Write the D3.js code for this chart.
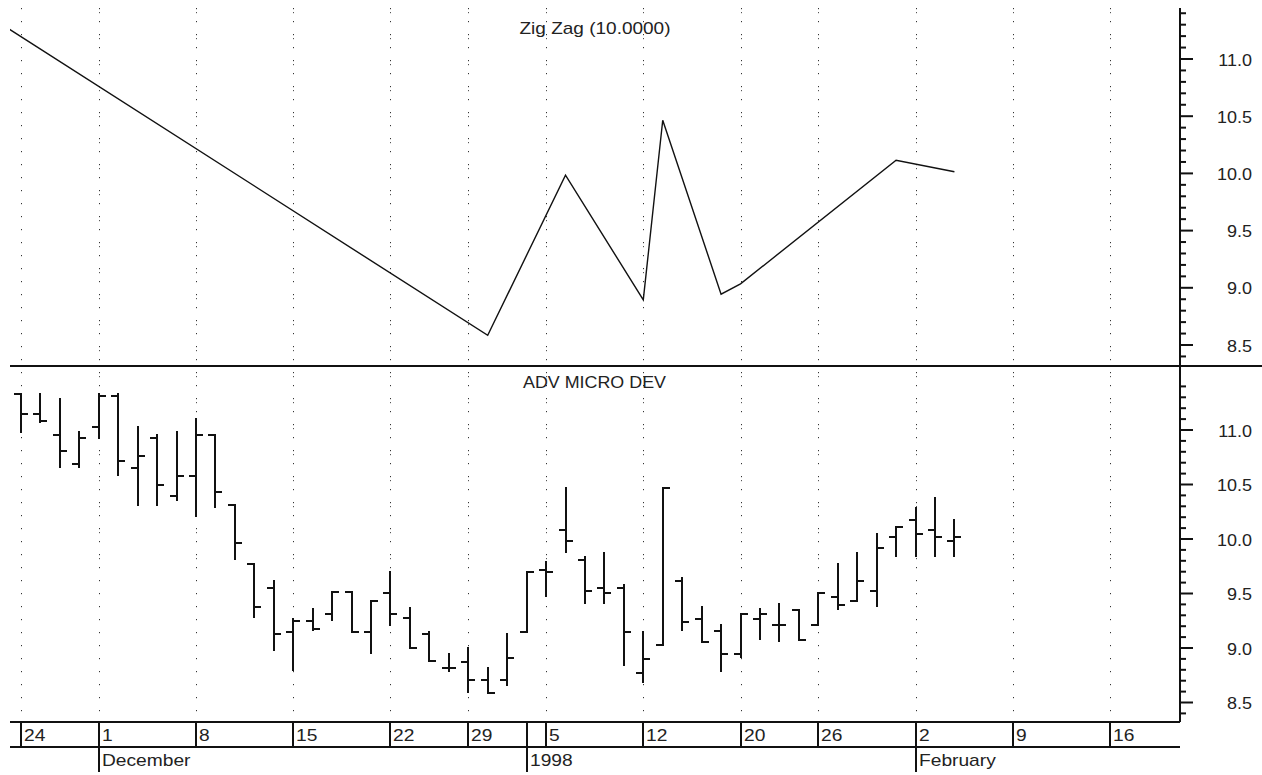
<!DOCTYPE html>
<html><head><meta charset="utf-8">
<script src="https://cdn.jsdelivr.net/npm/d3@7"></script>
<style>html,body{margin:0;padding:0;background:#fff;} svg{display:block;}</style>
</head><body><svg id="c" width="1262" height="775"></svg>
<script>
// ---------- data ----------
const tradingDays = [
 "1997-11-21","1997-11-24","1997-11-25","1997-11-26","1997-11-28",
 "1997-12-01","1997-12-02","1997-12-03","1997-12-04","1997-12-05",
 "1997-12-08","1997-12-09","1997-12-10","1997-12-11","1997-12-12",
 "1997-12-15","1997-12-16","1997-12-17","1997-12-18","1997-12-19",
 "1997-12-22","1997-12-23","1997-12-24","1997-12-26",
 "1997-12-29","1997-12-30","1997-12-31","1998-01-02",
 "1998-01-05","1998-01-06","1998-01-07","1998-01-08","1998-01-09",
 "1998-01-12","1998-01-13","1998-01-14","1998-01-15","1998-01-16",
 "1998-01-20","1998-01-21","1998-01-22","1998-01-23",
 "1998-01-26","1998-01-27","1998-01-28","1998-01-29","1998-01-30",
 "1998-02-02","1998-02-03","1998-02-04","1998-02-05","1998-02-06",
 "1998-02-09","1998-02-10","1998-02-11","1998-02-12","1998-02-13",
 "1998-02-16"];
const barDates = tradingDays.slice(1, 50);
const opens  = [11.33,11.14,10.95,10.68,11.02,11.31,10.65,10.92,10.39,10.57,10.95,10.31,9.77,9.55,9.14,9.24,9.31,9.51,9.14,9.50,9.27,9.12,8.81,8.87,8.70,8.70,9.14,9.71,10.08,9.80,9.55,9.55,8.77,9.02,9.61,9.26,9.15,8.94,9.26,9.21,9.34,9.21,9.46,9.43,9.52,10.01,10.17,10.08,9.98];
const highs  = [11.33,11.33,11.28,10.98,11.33,11.33,11.02,10.95,10.98,11.10,10.95,10.31,9.77,9.61,9.26,9.35,9.51,9.51,9.43,9.69,9.36,9.14,8.94,9.00,8.81,9.12,9.69,9.78,10.46,9.83,9.87,9.57,9.14,10.46,9.64,9.37,9.21,9.31,9.35,9.40,9.34,9.50,9.77,9.87,10.04,10.11,10.28,10.37,10.17];
const lows   = [10.98,11.07,10.66,10.66,10.92,10.58,10.31,10.31,10.35,10.21,10.29,9.81,9.28,8.98,8.79,9.16,9.25,9.14,8.95,9.21,9.00,8.88,8.78,8.59,8.58,8.66,9.14,9.47,9.88,9.41,9.41,8.84,8.68,9.02,9.16,9.05,8.78,8.91,9.08,9.06,9.07,9.21,9.35,9.43,9.38,9.84,9.84,9.84,9.84];
const closes = [11.14,11.08,10.80,10.92,11.31,10.71,10.76,10.49,10.57,10.95,10.43,9.96,9.37,9.12,9.24,9.17,9.51,9.14,9.43,9.31,9.00,8.88,8.81,8.70,8.58,8.90,9.69,9.69,9.98,9.52,9.50,9.14,8.89,10.46,9.23,9.05,8.94,9.31,9.31,9.21,9.07,9.50,9.39,9.61,9.91,10.11,10.04,10.01,10.01];

const zigzagDates  = ["1997-11-21","1997-12-30","1998-01-06","1998-01-12","1998-01-13","1998-01-16","1998-01-20","1998-01-30","1998-02-04"];
const zigzagValues = [11.30,8.58,9.98,8.89,10.46,8.94,9.03,10.11,10.01];

const dayTickDates  = ["1997-11-24","1997-12-01","1997-12-08","1997-12-15","1997-12-22","1997-12-29","1998-01-05","1998-01-12","1998-01-20","1998-01-26","1998-02-02","1998-02-09","1998-02-16"];
const dayTickLabels = ["24","1","8","15","22","29","5","12","20","26","2","9","16"];
const yearStartDate = "1998-01-02";
const monthTickDates  = ["1997-12-01","1998-01-02","1998-02-02"];
const monthTickLabels = ["December","1998","February"];

const majorTicks = [8.5,9.0,9.5,10.0,10.5,11.0];
const topMinorTicks = d3.range(84,115).map(d=>d/10);
const botMinorTicks = d3.range(84,116).map(d=>d/10);

const topTitle = "Zig Zag (10.0000)";
const bottomTitle = "ADV MICRO DEV";

// ---------- layout ----------
const svg = d3.select("#c");
const W = 1262, H = 775;
const plotL = 10, axisX = 1180;
const topY0 = 8, divY = 366, botY1 = 722, row2Y = 747, row3Y = 772;
const ink = "#111";
const font = "'Liberation Sans', Arial, sans-serif";

svg.append("rect").attr("width",W).attr("height",H).attr("fill","#fff");

const idx = d => tradingDays.indexOf(d);
const x = d3.scaleLinear().domain([1,57]).range([21,1110]);
const xd = d => Math.round(x(idx(d)));
const yTop = d3.scaleLinear().domain([8.5,11.0]).range([344.5,58.5]);
const yBot = d3.scaleLinear().domain([8.5,11.0]).range([702,429.5]);

svg.append("clipPath").attr("id","clip").append("rect")
  .attr("x",plotL).attr("y",0).attr("width",axisX-plotL).attr("height",botY1);

// gridlines
const grid = svg.append("g");
dayTickDates.forEach((d,i)=>{
  const gx = xd(d)+0.5;
  grid.append("line").attr("x1",gx).attr("x2",gx).attr("y1",topY0).attr("y2",botY1)
    .attr("stroke","#333").attr("stroke-width",1).attr("stroke-dasharray","1.2,11.8");
  if(i>0) grid.append("line").attr("x1",gx).attr("x2",gx).attr("y1",topY0+4).attr("y2",560)
    .attr("stroke","#555").attr("stroke-width",1).attr("stroke-dasharray","1.2,24.8");
});

// zigzag line
const zz = zigzagDates.map((d,i)=>({d, v:zigzagValues[i]}));
svg.append("path").datum(zz)
  .attr("clip-path","url(#clip)")
  .attr("fill","none").attr("stroke",ink).attr("stroke-width",1.4)
  .attr("d", d3.line().x(p=>x(idx(p.d))).y(p=>yTop(p.v)));

// OHLC bars
const bars = barDates.map((d,i)=>({d,o:opens[i],h:highs[i],l:lows[i],c:closes[i]}));
const bg = svg.append("g").attr("stroke",ink).attr("stroke-width",2).attr("clip-path","url(#clip)");
bars.forEach(b=>{
  const bx = xd(b.d);
  bg.append("line").attr("x1",bx).attr("x2",bx).attr("y1",Math.round(yBot(b.h))-1).attr("y2",Math.round(yBot(b.l))+1);
  const yo = Math.round(yBot(b.o)), yc = Math.round(yBot(b.c));
  bg.append("line").attr("x1",bx-7).attr("x2",bx).attr("y1",yo).attr("y2",yo);
  bg.append("line").attr("x1",bx).attr("x2",bx+7).attr("y1",yc).attr("y2",yc);
});

// frame lines
svg.append("line").attr("x1",plotL).attr("x2",W).attr("y1",divY).attr("y2",divY).attr("stroke",ink).attr("stroke-width",2);
svg.append("line").attr("x1",axisX).attr("x2",axisX).attr("y1",topY0).attr("y2",botY1).attr("stroke",ink).attr("stroke-width",2);
svg.append("line").attr("x1",plotL).attr("x2",axisX).attr("y1",botY1).attr("y2",botY1).attr("stroke",ink).attr("stroke-width",2);
svg.append("line").attr("x1",plotL).attr("x2",axisX).attr("y1",row2Y).attr("y2",row2Y).attr("stroke",ink).attr("stroke-width",2);

// right axes
function drawAxis(scale, minor){
  const gMin = svg.append("g").attr("transform",`translate(${axisX},0)`)
    .call(d3.axisRight(scale).tickValues(minor.filter(v=>Math.round(v*10)%5!==0)).tickSize(6).tickFormat(""));
  const gMaj = svg.append("g").attr("transform",`translate(${axisX},0)`)
    .call(d3.axisRight(scale).tickValues(majorTicks).tickSize(13).tickFormat(d3.format(".1f")));
  [gMin,gMaj].forEach(g=>{
    g.select(".domain").remove();
    g.selectAll(".tick line").attr("stroke",ink).attr("stroke-width",2);
  });
  gMaj.selectAll(".tick text").attr("x",null).attr("dy",null).attr("y",null)
    .attr("transform","translate(72,6.5) scale(1.06,1)")
    .attr("text-anchor","end").attr("fill","#222")
    .style("font-family",font).style("font-size","17px");
}
drawAxis(yTop, topMinorTicks);
drawAxis(yBot, botMinorTicks);

// titles
svg.append("text").attr("x",595).attr("y",34).attr("text-anchor","middle")
  .attr("textLength",151).attr("lengthAdjust","spacingAndGlyphs")
  .style("font-family",font).style("font-size","17px").attr("fill","#222").text(topTitle);
svg.append("text").attr("x",594.5).attr("y",388).attr("text-anchor","middle")
  .attr("textLength",143).attr("lengthAdjust","spacingAndGlyphs")
  .style("font-family",font).style("font-size","17px").attr("fill","#222").text(bottomTitle);

// date axis rows
const sepDates = dayTickDates.concat([yearStartDate]);
sepDates.forEach(d=>{
  const sx = xd(d);
  svg.append("line").attr("x1",sx).attr("x2",sx).attr("y1",botY1).attr("y2",row2Y).attr("stroke",ink).attr("stroke-width",2);
});
dayTickDates.forEach((d,i)=>{
  svg.append("text").attr("transform",`translate(${xd(d)+3},741) scale(1.2,1)`)
    .style("font-family",font).style("font-size","16px").attr("fill","#222").text(dayTickLabels[i]);
});
monthTickDates.forEach((d,i)=>{
  const sx = xd(d);
  svg.append("line").attr("x1",sx).attr("x2",sx).attr("y1",row2Y).attr("y2",row3Y).attr("stroke",ink).attr("stroke-width",2);
  svg.append("text").attr("transform",`translate(${sx+3},766) scale(1.2,1)`)
    .style("font-family",font).style("font-size","16px").attr("fill","#222").text(monthTickLabels[i]);
});
</script></body></html>
